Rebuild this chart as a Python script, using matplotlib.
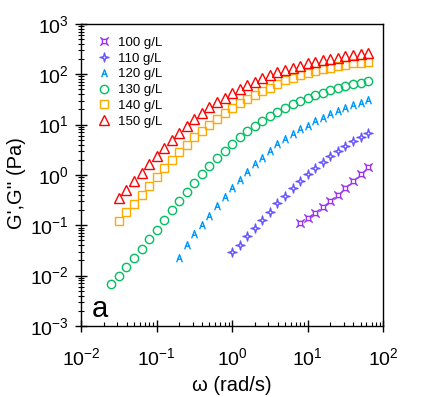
import numpy as np
import matplotlib
matplotlib.use("Agg")
import matplotlib.pyplot as plt
from matplotlib.path import Path
from matplotlib.ticker import LogLocator, NullFormatter

plt.rcParams['font.family'] = ['Liberation Sans', 'DejaVu Sans']
plt.rcParams['mathtext.default'] = 'regular'

# angular frequency grid of the sweep (rad/s), 10 points per decade
omega = [0.0251, 0.0316, 0.0398, 0.0501, 0.0631, 0.0794,
         0.100, 0.126, 0.158, 0.200, 0.251, 0.316, 0.398, 0.501, 0.631, 0.794,
         1.00, 1.26, 1.58, 2.00, 2.51, 3.16, 3.98, 5.01, 6.31, 7.94,
         10.0, 12.6, 15.8, 20.0, 25.1, 31.6, 39.8, 50.1, 63.1]

# moduli (Pa); each series starts at a given index of omega
g100 = [0.110, 0.138, 0.173, 0.228, 0.304, 0.394, 0.544, 0.760, 1.03, 1.44]
g110 = [0.0291, 0.0401, 0.0605, 0.0873, 0.126, 0.184, 0.274, 0.383, 0.544,
        0.760, 1.05, 1.36, 1.79, 2.38, 2.96, 3.72, 4.67, 5.69, 6.73]
g120 = [0.0227, 0.0407, 0.0664, 0.102, 0.155, 0.239, 0.357, 0.544, 0.805,
        1.16, 1.62, 2.21, 3.04, 4.07, 5.26, 6.43, 8.02, 9.53, 11.7, 13.7,
        16.1, 18.7, 21.1, 24.3, 26.9, 30.5]
g130 = [0.0068, 0.0098, 0.0151, 0.0224, 0.0339, 0.0535, 0.0796, 0.128, 0.199,
        0.304, 0.459, 0.693, 1.05, 1.51, 2.15, 3.00, 4.13, 5.69, 7.48, 9.27,
        11.7, 14.7, 17.7, 21.4, 25.7, 29.9, 33.9, 38.8, 43.2, 48.2, 54.2,
        59.4, 64.3, 68.2, 73.6]
g140 = [0.124, 0.182, 0.265, 0.40, 0.60, 0.91, 1.36, 1.99, 2.82, 3.94, 5.61,
        7.48, 9.84, 12.9, 16.8, 21.4, 26.9, 32.4, 38.8, 46.7, 54.2, 63.7,
        77.1, 85.7, 95.7, 105, 116, 126, 135, 146, 155, 163, 170, 178]
g150 = [0.35, 0.51, 0.74, 1.11, 1.65, 2.42, 3.49, 4.95, 6.93, 9.5, 12.8, 16.8,
        22.1, 27.8, 34.4, 42.0, 50.5, 60.5, 70.5, 83.4, 95.7, 108, 120, 134,
        148, 163, 178, 187, 199, 214, 228, 239, 250, 262]

labels = ['100 g/L', '110 g/L', '120 g/L', '130 g/L', '140 g/L', '150 g/L']
starts = [25, 16, 9, 0, 1, 1]
series = [g100, g110, g120, g130, g140, g150]
colors = ['#9933ee', '#6655ff', '#0099ff', '#00c060', '#ffaa00', '#ff0000']

# custom origin-like symbols
M, L, C = Path.MOVETO, Path.LINETO, Path.CLOSEPOLY
sq_corner = Path([(-0.5, -0.5), (0.5, -0.5), (0.5, 0.5), (-0.5, 0.5), (-0.5, -0.5),
                  (0.5, 0.5), (1, 1), (-0.5, 0.5), (-1, 1),
                  (-0.5, -0.5), (-1, -1), (0.5, -0.5), (1, -1)],
                 [M, L, L, L, C, M, L, M, L, M, L, M, L])
star4 = Path([(0, 1), (0.2, 0.2), (1, 0), (0.2, -0.2), (0, -1), (-0.2, -0.2),
              (-1, 0), (-0.2, 0.2), (0, 1)],
             [M, L, L, L, L, L, L, L, C])
letter_a = Path([(-0.75, -1), (0, 1), (0.75, -1), (-0.45, -0.2), (0.45, -0.2)],
                [M, L, L, M, L])
markers = [sq_corner, star4, letter_a, 'o', 's', '^']
msizes = [6, 6.5, 5.5, 6, 6, 7]

fig = plt.figure(figsize=(4.36, 3.97), dpi=100)
ax = fig.add_axes([0.186, 0.179, 0.693, 0.761])

for lab, s0, ys, c, m, ms in zip(labels, starts, series, colors, markers, msizes):
    xs = omega[s0:s0 + len(ys)]
    ax.plot(xs, ys, linestyle='none', marker=m, markersize=ms,
            markerfacecolor='none', markeredgecolor=c, markeredgewidth=1.0,
            label=lab)

ax.set_xscale('log')
ax.set_yscale('log')
ax.set_xlim(1e-2, 1e2)
ax.set_ylim(1e-3, 1e3)

ax.xaxis.set_major_locator(LogLocator(base=10, numticks=20))
ax.yaxis.set_major_locator(LogLocator(base=10, numticks=20))
ax.xaxis.set_minor_locator(LogLocator(base=10, subs=np.arange(2, 10), numticks=100))
ax.yaxis.set_minor_locator(LogLocator(base=10, subs=np.arange(2, 10), numticks=100))
ax.xaxis.set_minor_formatter(NullFormatter())
ax.yaxis.set_minor_formatter(NullFormatter())

ax.tick_params(which='major', direction='inout', length=8, width=1.0,
               labelsize=14, top=False, right=False)
ax.tick_params(axis='x', which='major', pad=11)
ax.tick_params(axis='y', which='major', pad=5)
ax.tick_params(axis='x', which='minor', direction='in', length=3, width=0.8)
ax.tick_params(axis='y', which='minor', direction='inout', length=4, width=0.8)
for sp in ax.spines.values():
    sp.set_linewidth(1.0)

ax.set_xlabel('ω (rad/s)', fontsize=14.5)
ax.set_ylabel("G',G'' (Pa)", fontsize=14.5)
ax.xaxis.set_label_coords(0.5, -0.165)
ax.yaxis.set_label_coords(-0.182, 0.474)

ax.text(0.036, 0.031, 'a', transform=ax.transAxes, fontsize=21,
        ha='left', va='baseline')

ax.legend(loc='upper left', bbox_to_anchor=(0.053, 0.958), frameon=False,
          fontsize=9.5, handlelength=1.0, handletextpad=0.6, labelspacing=0.27,
          borderaxespad=0, borderpad=0, numpoints=1)

fig.savefig('out.png', dpi=100)
